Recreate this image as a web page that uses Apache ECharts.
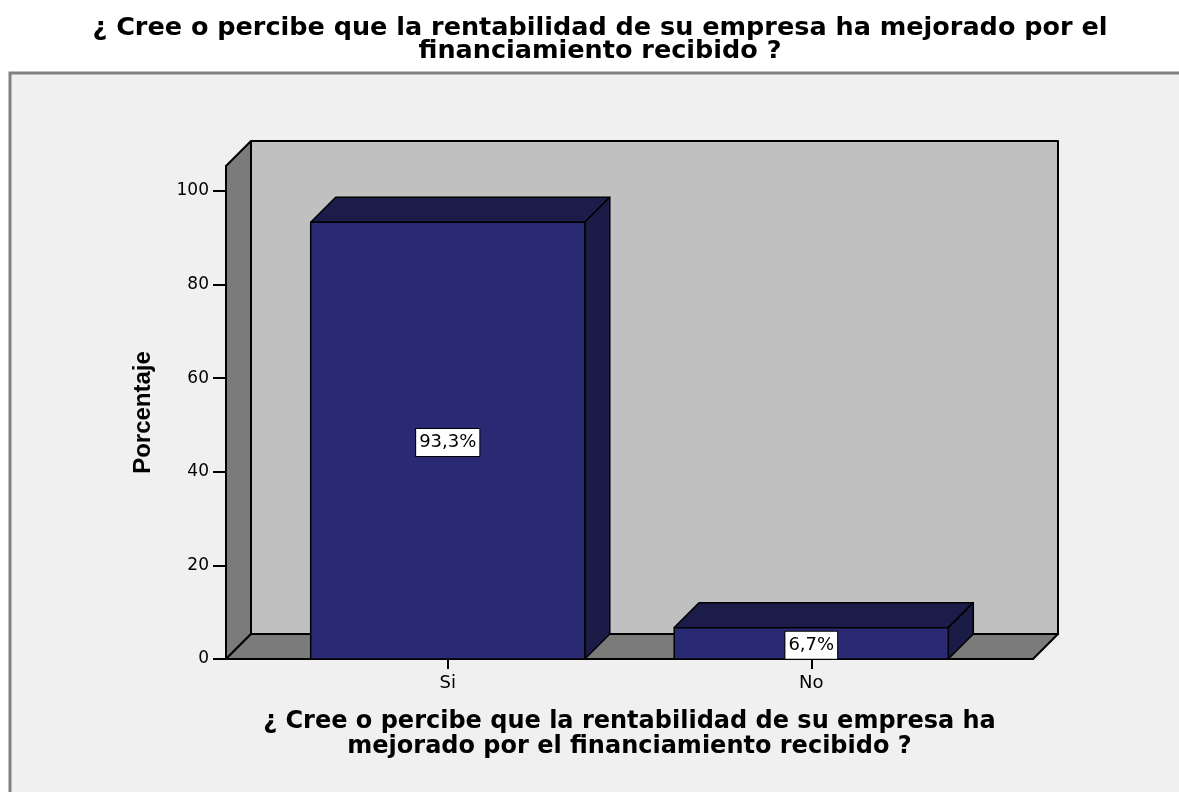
<!DOCTYPE html>
<html>
<head>
<meta charset="utf-8">
<title>Rentabilidad</title>
<script src="https://cdn.jsdelivr.net/npm/echarts@6/dist/echarts.min.js"></script>
<style>
  html, body { margin: 0; padding: 0; background: #fff; }
  #main { width: 1179px; height: 792px; }
</style>
</head>
<body>
<div id="main"></div>
<script>
// datos
const categories = ['Si', 'No'];
const percents = [93.3, 6.7];
const chartTitle = '¿ Cree o percibe que la rentabilidad de su empresa ha mejorado por el\nfinanciamiento recibido ?';
const xTitle = '¿ Cree o percibe que la rentabilidad de su empresa ha\nmejorado por el financiamiento recibido ?';
const yTitle = 'Porcentaje';

// límites de los ejes (estilo SPSS 3D)
const X_MIN = -0.61, X_MAX = 1.61, Y_MAX = 105.3;
const DEPTH = 25;      // profundidad en px
const BAR_W = 0.754;   // ancho de barra en unidades de categoría

const chart = echarts.init(document.getElementById('main'));

// paredes: fondo, lateral izquierda y piso
function renderWalls(params, api) {
    const tl = api.coord([X_MIN, Y_MAX]);
    const bl = api.coord([X_MIN, 0]);
    const br = api.coord([X_MAX, 0]);
    const d = DEPTH;
    const line = { stroke: '#000', lineWidth: 2, lineJoin: 'round' };
    return {
        type: 'group',
        children: [
            { type: 'rect',
              shape: { x: tl[0] + d, y: tl[1] - d, width: br[0] - bl[0], height: bl[1] - tl[1] },
              style: Object.assign({ fill: '#c0c0c0' }, line) },
            { type: 'polygon',
              shape: { points: [tl, [tl[0] + d, tl[1] - d], [bl[0] + d, bl[1] - d], bl] },
              style: Object.assign({ fill: '#7b7b7b' }, line) },
            { type: 'polygon',
              shape: { points: [bl, [bl[0] + d, bl[1] - d], [br[0] + d, br[1] - d], br] },
              style: Object.assign({ fill: '#7b7b7b' }, line) }
        ]
    };
}

// barras 3D
function renderBar(params, api) {
    const x = api.value(0), v = api.value(1);
    const base = api.coord([x, 0]);
    const top = api.coord([x, v]);
    const half = api.size([BAR_W, 0])[0] / 2;
    const x0 = base[0] - half, x1 = base[0] + half;
    const yt = top[1], yb = base[1];
    const d = DEPTH;
    const line = { stroke: '#000', lineWidth: 1.5, lineJoin: 'round' };
    const label = v.toFixed(1).replace('.', ',') + '%';
    return {
        type: 'group',
        children: [
            { type: 'polygon',
              shape: { points: [[x0, yt], [x0 + d, yt - d], [x1 + d, yt - d], [x1, yt]] },
              style: Object.assign({ fill: '#1c1c4b' }, line) },
            { type: 'polygon',
              shape: { points: [[x1, yt], [x1 + d, yt - d], [x1 + d, yb - d], [x1, yb]] },
              style: Object.assign({ fill: '#1b1b47' }, line) },
            { type: 'rect',
              shape: { x: x0, y: yt, width: x1 - x0, height: yb - yt },
              style: Object.assign({ fill: '#292a73' }, line) },
            { type: 'text',
              x: base[0], y: (yt + yb) / 2 + 2,
              style: {
                  text: label,
                  font: '18px "DejaVu Sans"',
                  fill: '#000',
                  align: 'center',
                  verticalAlign: 'middle',
                  backgroundColor: '#fff',
                  borderColor: '#000',
                  borderWidth: 1,
                  padding: [5, 3, 4, 3]
              } }
        ]
    };
}

const option = {
    backgroundColor: '#fff',
    animation: false,
    graphic: [{
        type: 'rect',
        z: -10,
        shape: { x: 10, y: 73, width: 1200, height: 800 },
        style: { fill: '#f0f0f0', stroke: '#808080', lineWidth: 3 }
    }],
    title: {
        text: chartTitle,
        left: 600,
        top: 17,
        padding: 0,
        textAlign: 'center',
        textStyle: {
            fontFamily: 'DejaVu Sans',
            fontWeight: 'bold',
            fontSize: 25.5,
            lineHeight: 23,
            color: '#000'
        }
    },
    grid: { left: 226, right: 146, top: 166, bottom: 133 },
    xAxis: {
        type: 'value',
        min: X_MIN,
        max: X_MAX,
        name: xTitle,
        nameLocation: 'middle',
        nameGap: 50,
        nameTextStyle: {
            fontFamily: 'DejaVu Sans',
            fontWeight: 'bold',
            fontSize: 24,
            lineHeight: 25,
            color: '#000'
        },
        splitLine: { show: false },
        axisLine: { show: true, onZero: false, lineStyle: { color: '#000', width: 2 } },
        axisTick: { show: true, customValues: [0, 1], length: 10, lineStyle: { color: '#000', width: 2 } },
        axisLabel: {
            customValues: [0, 1],
            formatter: v => categories[Math.round(v)],
            margin: 15,
            fontFamily: 'DejaVu Sans',
            fontSize: 18,
            color: '#000'
        }
    },
    yAxis: {
        type: 'value',
        min: 0,
        max: Y_MAX,
        interval: 20,
        name: yTitle,
        nameLocation: 'middle',
        nameGap: 71,
        nameTextStyle: {
            fontFamily: 'Liberation Sans',
            fontWeight: 'bold',
            fontSize: 24,
            color: '#000'
        },
        splitLine: { show: false },
        axisLine: { show: true, onZero: false, lineStyle: { color: '#000', width: 2 } },
        axisTick: { show: true, inside: false, length: 13, lineStyle: { color: '#000', width: 2 } },
        axisLabel: {
            margin: 17,
            fontFamily: 'DejaVu Sans',
            fontSize: 17,
            color: '#000',
            showMaxLabel: false
        }
    },
    series: [
        {
            type: 'custom',
            name: 'paredes',
            clip: false,
            silent: true,
            z: 1,
            renderItem: renderWalls,
            data: [[0, 0]]
        },
        {
            type: 'custom',
            name: 'Porcentaje',
            clip: false,
            z: 3,
            renderItem: renderBar,
            encode: { x: 0, y: 1 },
            data: percents.map((v, i) => [i, v])
        }
    ]
};

chart.setOption(option);
</script>
</body>
</html>
